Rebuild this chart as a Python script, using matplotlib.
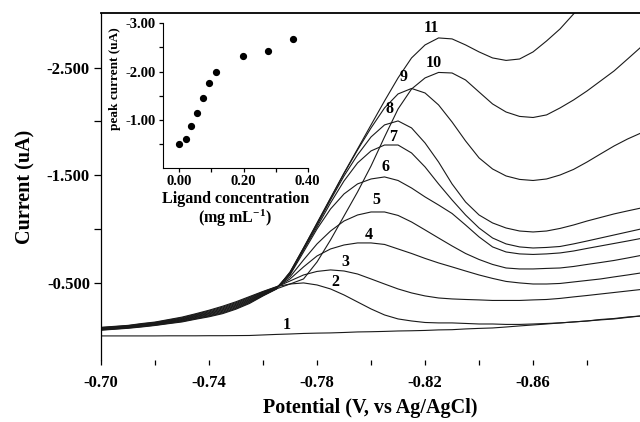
import numpy as np
import matplotlib
matplotlib.use("Agg")
import matplotlib.pyplot as plt
from matplotlib.ticker import FixedLocator, FormatStrFormatter

plt.rcParams['font.family'] = ['Liberation Serif', 'DejaVu Serif']
plt.rcParams['font.weight'] = 'bold'
plt.rcParams['axes.unicode_minus'] = False
plt.rcParams['mathtext.fontset'] = 'custom'
plt.rcParams['mathtext.rm'] = 'Liberation Serif:bold'
plt.rcParams['mathtext.bf'] = 'Liberation Serif:bold'
plt.rcParams['mathtext.default'] = 'rm'

nan = np.nan
potential = [-0.700, -0.705, -0.710, -0.715, -0.720, -0.725, -0.730, -0.735, -0.740, -0.745,
             -0.750, -0.755, -0.760, -0.765, -0.770, -0.775, -0.780, -0.785, -0.790, -0.795,
             -0.800, -0.805, -0.810, -0.815, -0.820, -0.825, -0.830, -0.835, -0.840, -0.845,
             -0.850, -0.855, -0.860, -0.865, -0.870, -0.875, -0.880, -0.885, -0.890, -0.895, -0.900]

curve_1 = [-0.004, -0.004, -0.004, -0.004, -0.004, -0.005, -0.005, -0.005, -0.006, -0.006, -0.007, -0.008, -0.013, -0.018,
           -0.022, -0.027, -0.030, -0.032, -0.036, -0.041, -0.043, -0.046, -0.050, -0.052, -0.055, -0.060, -0.062, -0.069,
           -0.074, -0.078, -0.087, -0.097, -0.106, -0.115, -0.125, -0.134, -0.143, -0.157, -0.166, -0.180, -0.190]
curve_2 = [-0.084, -0.093, -0.102, -0.119, -0.133, -0.156, -0.179, -0.210, -0.243, -0.280, -0.322, -0.370, -0.418, -0.462,
           -0.487, -0.497, -0.478, -0.441, -0.385, -0.320, -0.255, -0.199, -0.162, -0.143, -0.129, -0.125, -0.125, -0.120,
           -0.115, -0.115, -0.111, -0.111, -0.115, -0.120, -0.125, -0.134, -0.143, -0.153, -0.162, -0.176, -0.190]
curve_3 = [-0.081, -0.090, -0.099, -0.115, -0.129, -0.151, -0.173, -0.204, -0.236, -0.272, -0.314, -0.363, -0.414, -0.460,
           -0.515, -0.571, -0.604, -0.618, -0.608, -0.580, -0.534, -0.487, -0.441, -0.404, -0.376, -0.357, -0.348, -0.343,
           -0.339, -0.334, -0.334, -0.334, -0.339, -0.343, -0.353, -0.367, -0.380, -0.394, -0.408, -0.422, -0.436]
curve_4 = [-0.078, -0.087, -0.096, -0.111, -0.125, -0.146, -0.167, -0.198, -0.228, -0.264, -0.306, -0.356, -0.409, -0.457,
           -0.534, -0.646, -0.748, -0.813, -0.850, -0.869, -0.869, -0.855, -0.813, -0.771, -0.725, -0.683, -0.646, -0.608,
           -0.571, -0.539, -0.511, -0.497, -0.487, -0.487, -0.492, -0.506, -0.520, -0.534, -0.553, -0.571, -0.590]
curve_5 = [-0.075, -0.084, -0.093, -0.108, -0.122, -0.142, -0.162, -0.192, -0.221, -0.256, -0.298, -0.348, -0.403, -0.455,
           -0.553, -0.711, -0.860, -0.980, -1.073, -1.129, -1.157, -1.157, -1.125, -1.064, -0.990, -0.915, -0.841, -0.771,
           -0.715, -0.669, -0.636, -0.627, -0.627, -0.632, -0.636, -0.650, -0.669, -0.687, -0.706, -0.729, -0.753]
curve_6 = [-0.072, -0.081, -0.090, -0.105, -0.118, -0.138, -0.157, -0.186, -0.214, -0.248, -0.290, -0.341, -0.398, -0.452,
           -0.571, -0.785, -0.999, -1.185, -1.325, -1.418, -1.464, -1.483, -1.450, -1.380, -1.297, -1.222, -1.143, -1.036,
           -0.925, -0.832, -0.785, -0.767, -0.762, -0.767, -0.776, -0.794, -0.818, -0.841, -0.864, -0.887, -0.911]
curve_7 = [-0.069, -0.078, -0.087, -0.101, -0.115, -0.134, -0.153, -0.181, -0.208, -0.241, -0.283, -0.334, -0.393, -0.449,
           -0.580, -0.804, -1.018, -1.241, -1.446, -1.613, -1.725, -1.780, -1.780, -1.706, -1.576, -1.418, -1.269, -1.129,
           -1.008, -0.915, -0.860, -0.832, -0.822, -0.827, -0.836, -0.860, -0.887, -0.915, -0.943, -0.971, -0.999]
curve_8 = [-0.066, -0.075, -0.084, -0.098, -0.111, -0.130, -0.148, -0.175, -0.201, -0.233, -0.275, -0.327, -0.389, -0.447,
           -0.590, -0.813, -1.036, -1.269, -1.492, -1.688, -1.855, -1.967, -2.004, -1.939, -1.799, -1.622, -1.418, -1.250,
           -1.129, -1.055, -1.008, -0.980, -0.971, -0.980, -1.004, -1.036, -1.073, -1.106, -1.139, -1.167, -1.194]
curve_9 = [-0.063, -0.072, -0.081, -0.094, -0.108, -0.126, -0.143, -0.169, -0.194, -0.225, -0.267, -0.320, -0.384, -0.444,
           -0.594, -0.822, -1.050, -1.283, -1.515, -1.734, -1.939, -2.125, -2.255, -2.306, -2.264, -2.153, -1.994, -1.818,
           -1.660, -1.557, -1.492, -1.460, -1.450, -1.464, -1.501, -1.553, -1.622, -1.697, -1.771, -1.836, -1.892]
curve_10 = [-0.060, -0.069, -0.078, -0.091, -0.104, -0.122, -0.139, -0.164, -0.188, -0.218, -0.260, -0.313, -0.380, -0.442,
            -0.487, -0.534, -0.692, -0.897, -1.120, -1.343, -1.585, -1.855, -2.115, -2.301, -2.404, -2.455, -2.450, -2.385,
            -2.273, -2.162, -2.087, -2.046, -2.036, -2.060, -2.125, -2.199, -2.283, -2.376, -2.469, -2.580, -2.692]
curve_11 = [-0.057, -0.066, -0.075, -0.087, -0.101, -0.118, -0.134, -0.159, -0.182, -0.211, -0.253, -0.306, -0.376, -0.440,
            -0.599, -0.822, -1.055, -1.287, -1.520, -1.743, -1.967, -2.190, -2.404, -2.590, -2.711, -2.776, -2.767, -2.711,
            -2.646, -2.590, -2.567, -2.580, -2.646, -2.748, -2.860, -2.999, -3.139, nan, nan, nan, nan]

curve_names = ['1', '2', '3', '4', '5', '6', '7', '8', '9', '10', '11']
label_v = [-0.7688, -0.7867, -0.7904, -0.7990, -0.8021, -0.8052, -0.8080, -0.8068, -0.8120, -0.8231, -0.8225]
label_i = [-0.106, -0.509, -0.695, -0.943, -1.269, -1.579, -1.858, -2.113, -2.410, -2.540, -2.866]

conc = [0.000, 0.022, 0.035, 0.055, 0.075, 0.092, 0.113, 0.198, 0.277, 0.355]
peak = [-0.49, -0.61, -0.87, -1.15, -1.46, -1.77, -1.99, -2.32, -2.43, -2.67]

main_xticks = [-0.70, -0.74, -0.78, -0.82, -0.86]
main_xminor = [-0.72, -0.76, -0.80, -0.84, -0.88]
main_yticks = [-2.5, -1.5, -0.5]
main_yminor = [-2.0, -1.0]
ins_xticks = [0.0, 0.2, 0.4]
ins_xminor = [0.1, 0.3]
ins_yticks = [-3.0, -2.0, -1.0]
ins_yminor = [-2.5, -1.5, -0.5]

curves = [curve_1, curve_2, curve_3, curve_4, curve_5, curve_6, curve_7, curve_8, curve_9, curve_10, curve_11]

W, H = 640, 422
fig = plt.figure(figsize=(W / 100, H / 100), dpi=100)
ax = fig.add_axes([101 / W, 1 - 360 / H, 539 / W, (360 - 13) / H])

for c in curves:
    ax.plot(potential, c, color='#1a1a1a', lw=0.8)

for name, v, i in zip(curve_names, label_v, label_i):
    ax.text(v, i, name, ha='center', va='center', fontsize=11.5, fontweight='bold')

ax.set_xlim(-0.70, -0.8996)
ax.set_ylim(0.22, -3.008)
for s in ['right', 'bottom']:
    ax.spines[s].set_visible(False)
ax.spines['top'].set_linewidth(1.3)
ax.spines['left'].set_linewidth(0.9)

ax.xaxis.set_major_locator(FixedLocator(main_xticks))
ax.xaxis.set_minor_locator(FixedLocator(main_xminor))
ax.xaxis.set_major_formatter(FormatStrFormatter('%.2f'))
ax.yaxis.set_major_locator(FixedLocator(main_yticks))
ax.yaxis.set_minor_locator(FixedLocator(main_yminor))
ax.yaxis.set_major_formatter(FormatStrFormatter('%.3f'))
ax.tick_params(axis='x', which='both', direction='out', length=3.5, width=0.9, labelsize=12, pad=7, top=False)
ax.tick_params(axis='y', which='both', direction='out', length=5, width=0.9, labelsize=12, pad=3, right=False)
ax.set_xlabel('Potential (V, vs Ag/AgCl)', fontsize=14.5, fontweight='bold', labelpad=5)
ax.set_ylabel('Current (uA)', fontsize=14.5, fontweight='bold', labelpad=8)

ins = fig.add_axes([162.7 / W, 1 - 168 / H, 145 / W, (168 - 23.3) / H])
ins.patch.set_alpha(0)
ins.plot(conc, peak, 'o', color='black', ms=4.2)
ins.set_xlim(-0.052, 0.40)
ins.set_ylim(0.0, -3.0)
for s in ['right', 'top']:
    ins.spines[s].set_visible(False)
ins.xaxis.set_major_locator(FixedLocator(ins_xticks))
ins.xaxis.set_minor_locator(FixedLocator(ins_xminor))
ins.xaxis.set_major_formatter(FormatStrFormatter('%.2f'))
ins.yaxis.set_major_locator(FixedLocator(ins_yticks))
ins.yaxis.set_minor_locator(FixedLocator(ins_yminor))
ins.yaxis.set_major_formatter(FormatStrFormatter('%.2f'))
ins.tick_params(axis='both', which='both', direction='out', length=3, width=0.9, labelsize=10.5, pad=2)
ins.set_xlabel('Ligand concentration\n(mg mL$^{-1}$)', fontsize=11.5, fontweight='bold',
               labelpad=2, linespacing=1.05)
ins.set_ylabel('peak current (uA)', fontsize=9.5, fontweight='bold')
ins.yaxis.set_label_coords(-0.29, 0.62)

fig.savefig('out.png', dpi=100)
